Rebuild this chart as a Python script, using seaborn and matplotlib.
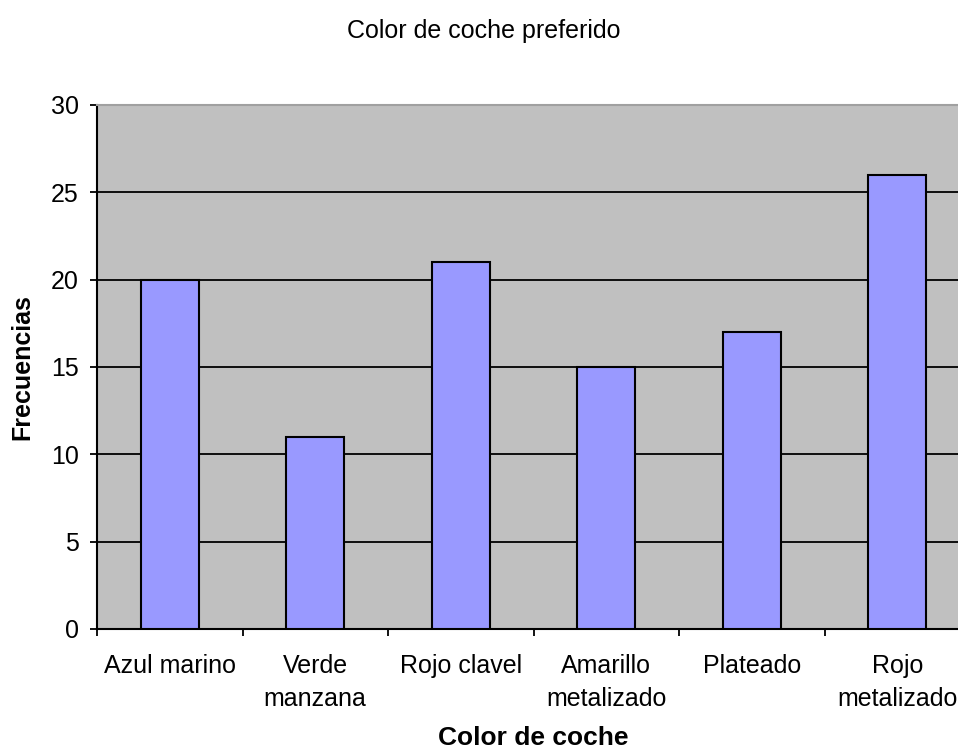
import matplotlib
matplotlib.use("Agg")
import matplotlib.pyplot as plt
import seaborn as sns
import pandas as pd
import numpy as np

categories = ["Azul marino", "Verde\nmanzana", "Rojo clavel", "Amarillo\nmetalizado",
              "Plateado", "Rojo\nmetalizado"]
frecuencias = [20, 11, 21, 15, 17, 26]
y_ticks = [0, 5, 10, 15, 20, 25, 30]

sns.set_theme(style="white")
plt.rcParams["font.family"] = ["Liberation Sans", "DejaVu Sans"]

df = pd.DataFrame({"Color": categories, "Frecuencias": frecuencias})

fig = plt.figure(figsize=(9.58, 7.52), dpi=100)
ax = fig.add_axes([97 / 958, 123 / 752, 873 / 958, 524 / 752])
ax.set_facecolor("#C0C0C0")

sns.barplot(data=df, x="Color", y="Frecuencias", ax=ax, width=0.4,
            color="#9999FF", saturation=1, edgecolor="black", linewidth=1.5, zorder=3)

ax.set_ylim(0, 30)
ax.set_xlim(-0.5, len(categories) - 0.5)
ax.set_yticks(y_ticks)
ax.yaxis.grid(True, color="black", linewidth=1.3, zorder=1)
ax.set_axisbelow(True)

# category labels centred, tick marks on the category boundaries
ax.set_xticks(range(len(categories)))
ax.set_xticklabels(categories, fontsize=18, linespacing=1.5)
ax.set_xticks(np.arange(-0.5, len(categories), 1.0), minor=True)
ax.tick_params(axis="x", which="major", length=0, pad=18, colors="black")
ax.tick_params(axis="x", which="minor", length=5, width=1.3, direction="out",
               bottom=True, color="black")
ax.tick_params(axis="y", length=5, width=1.3, direction="out", left=True,
               pad=8, labelsize=18, color="black", labelcolor="black")

for side in ["left", "bottom"]:
    ax.spines[side].set_color("black")
    ax.spines[side].set_linewidth(1.5)
ax.spines["top"].set_color("#A0A0A0")
ax.spines["top"].set_linewidth(1.5)
ax.spines["right"].set_visible(False)

ax.set_xlabel("Color de coche", fontsize=19, fontweight="bold", color="black")
ax.xaxis.label.set_va("center")
ax.xaxis.set_label_coords((533 - 97) / 873, -109 / 524)
ax.set_ylabel("Frecuencias", fontsize=18, fontweight="bold", color="black")
ax.yaxis.label.set_va("center")
ax.yaxis.set_label_coords(-75 / 873, 0.5)

fig.text(484 / 958, 1 - 31 / 752, "Color de coche preferido", ha="center", va="center",
         fontsize=18, color="black")

fig.savefig("out.png", dpi=100)
